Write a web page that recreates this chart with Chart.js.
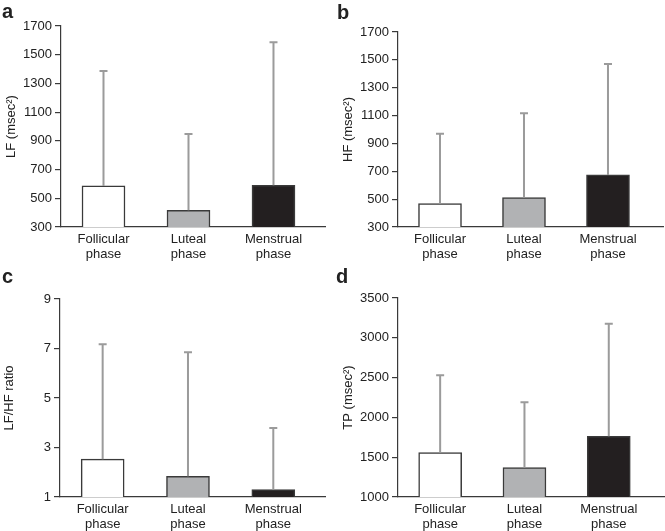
<!DOCTYPE html>
<html lang="en">
<head>
<meta charset="UTF-8">
<title>HRV by menstrual cycle phase</title>
<script src="https://cdn.jsdelivr.net/npm/chart.js"></script>
<style>
    body { margin: 0; background: #fff; }
    .wrap { position: relative; width: 665px; height: 531px; font-family: "Liberation Sans", Arial, sans-serif; }
    .panel { position: absolute; }
    .tag { position: absolute; font-size: 20px; line-height: 20px; font-weight: bold; color: #222; }
</style>
</head>
<body>
<div class="wrap">
    <div class="panel" style="left:0;top:0;width:332px;height:265px"><canvas id="chartA"></canvas></div>
    <div class="panel" style="left:332px;top:0;width:333px;height:265px"><canvas id="chartB"></canvas></div>
    <div class="panel" style="left:0;top:265px;width:332px;height:266px"><canvas id="chartC"></canvas></div>
    <div class="panel" style="left:332px;top:265px;width:333px;height:266px"><canvas id="chartD"></canvas></div>
    <div class="tag" style="left:2px;top:1px">a</div>
    <div class="tag" style="left:337px;top:2px">b</div>
    <div class="tag" style="left:2px;top:266px">c</div>
    <div class="tag" style="left:336px;top:266px">d</div>
</div>
<script>
// data (bar = mean, whisker = upper end)
var phases = [['Follicular', 'phase'], ['Luteal', 'phase'], ['Menstrual', 'phase']];

var lfMean = [586, 416, 590];
var lfUpper = [1386, 947, 1586];

var hfMean = [468, 512, 674];
var hfUpper = [970, 1117, 1471];

var ratioMean = [2.53, 1.84, 1.3];
var ratioUpper = [7.17, 6.85, 3.79];

var tpMean = [1558, 1369, 1762];
var tpUpper = [2529, 2189, 3178];

var barFill = ['#ffffff', '#b1b2b4', '#231f20'];
var ink = '#222';

// whiskers drawn through the chart's own scales
var whiskers = {
    id: 'whiskers',
    afterDatasetsDraw(chart) {
        var ctx = chart.ctx;
        var y = chart.scales.y;
        var meta = chart.getDatasetMeta(0);
        var upper = chart.options.plugins.whiskers.upper;
        ctx.save();
        ctx.strokeStyle = '#9b9b9b';
        ctx.lineWidth = 2;
        meta.data.forEach(function (bar, i) {
            var top = y.getPixelForValue(upper[i]);
            ctx.beginPath();
            ctx.moveTo(bar.x, bar.y);
            ctx.lineTo(bar.x, top);
            ctx.moveTo(bar.x - 4, top);
            ctx.lineTo(bar.x + 4, top);
            ctx.stroke();
        });
        ctx.restore();
    }
};

function makeChart(id, mean, upper, yTitle, yMin, yMax, yStep, box) {
    var points = mean.map(function (v, i) { return { x: i, y: v }; });
    return new Chart(document.getElementById(id), {
        type: 'bar',
        data: {
            datasets: [{
                data: points,
                backgroundColor: barFill,
                borderColor: '#3a3a3a',
                borderWidth: 1.5,
                barThickness: 43
            }]
        },
        options: {
            responsive: true,
            maintainAspectRatio: false,
            animation: false,
            layout: { padding: { top: box.top, right: box.right, left: 0, bottom: 0 } },
            plugins: {
                legend: { display: false },
                tooltip: { enabled: false },
                whiskers: { upper: upper }
            },
            scales: {
                x: {
                    type: 'linear',
                    offset: false,
                    min: -0.5,
                    max: box.xMax,
                    grid: { display: false, drawTicks: false },
                    border: { display: true, color: '#3a3a3a', width: 1.2 },
                    afterBuildTicks: function (s) { s.ticks = phases.map(function (p, i) { return { value: i }; }); },
                    afterFit: function (s) { s.height = box.xh; },
                    ticks: {
                        padding: 5,
                        maxRotation: 0,
                        autoSkip: false,
                        color: ink,
                        font: { family: 'Liberation Sans', size: 13, lineHeight: 1.15 },
                        callback: function (v) { return phases[v]; }
                    }
                },
                y: {
                    min: yMin,
                    max: yMax,
                    grid: { drawOnChartArea: false, drawTicks: true, tickLength: 6, color: '#3a3a3a', lineWidth: 1.2 },
                    border: { display: true, color: '#3a3a3a', width: 1.2 },
                    afterFit: function (s) { s.width = box.yw; },
                    ticks: {
                        stepSize: yStep,
                        padding: 3,
                        color: ink,
                        font: { family: 'Liberation Sans', size: 13 },
                        callback: function (v) { return String(v); }
                    },
                    title: {
                        display: true,
                        text: yTitle,
                        color: ink,
                        padding: { top: box.tp, bottom: 0 },
                        font: { family: 'Liberation Sans', size: 13 }
                    }
                }
            }
        },
        plugins: [whiskers]
    });
}

makeChart('chartA', lfMean, lfUpper, 'LF (msec²)', 300, 1700, 200,
    { top: 26, right: 7, yw: 61, xh: 38, xMax: 2.606, tp: 4 });
makeChart('chartB', hfMean, hfUpper, 'HF (msec²)', 300, 1700, 200,
    { top: 32, right: 2, yw: 66, xh: 38, xMax: 2.655, tp: 9 });
makeChart('chartC', ratioMean, ratioUpper, 'LF/HF ratio', 1, 9, 2,
    { top: 34, right: 7, yw: 60, xh: 34, xMax: 2.606, tp: 2 });
makeChart('chartD', tpMean, tpUpper, 'TP (msec²)', 1000, 3500, 500,
    { top: 33, right: 1, yw: 66, xh: 34, xMax: 2.655, tp: 9 });
</script>
</body>
</html>
